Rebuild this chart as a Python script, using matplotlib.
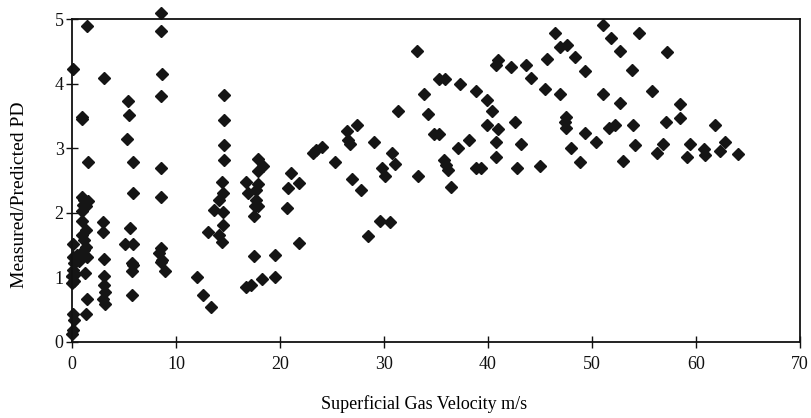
import matplotlib
matplotlib.use('Agg')
import matplotlib.pyplot as plt

# superficial gas velocity (m/s) and measured/predicted pressure drop
velocity = [
    0.1, 0.1, 0.1, 0.2, 0.1, 0.0, 0.0, 0.5, 0.7, 0.1, 0.2, 0.1, 0.0, 0.3, 0.2,
    1.43, 0.95, 0.95, 1.5, 1.0, 1.2, 1.5, 1.1, 1.35, 1.0, 0.95, 1.35, 0.95, 1.2,
    1.35, 1.2, 1.45, 1.25, 1.45, 1.35,
    3.1, 3.0, 3.0, 3.05, 3.1, 3.1, 3.2, 3.0, 3.2,
    5.4, 5.45, 5.3, 5.87, 5.87, 5.6, 5.1, 5.85, 5.9, 5.75, 5.75, 5.75,
    8.57, 8.57, 8.67, 8.6, 8.6, 8.6, 8.57, 8.4, 8.7, 8.57, 8.9,
    12.0, 12.6, 13.4, 13.1, 14.6, 14.6, 14.6, 14.6, 14.4, 14.55, 14.1, 13.65,
    14.5, 14.55, 14.1, 14.4,
    17.9, 18.4, 17.9, 16.7, 17.9, 16.9, 17.7, 17.7, 17.6, 17.9, 17.5, 17.5,
    19.5, 16.7, 17.2, 18.25, 19.5,
    21.1, 21.8, 20.8, 20.7, 21.8, 23.2, 23.5, 24.0, 25.3,
    33.2, 35.3, 35.9, 37.3, 38.8, 33.8, 31.3, 34.2, 27.4, 26.4, 26.5, 26.7,
    29.0, 34.8, 35.3, 38.2, 37.1, 30.8, 31.1, 29.8, 30.1, 26.9, 27.8, 33.3,
    35.8, 36.0, 36.2, 36.4, 38.8, 29.6, 30.6, 28.5,
    51.1, 46.4, 54.5, 51.8, 46.9, 47.6, 52.7, 41.0, 40.8, 45.7, 42.2, 43.7,
    44.1, 48.4, 49.3, 53.8, 45.5, 46.9, 51.1, 52.7, 39.9, 40.4, 39.9, 41.0,
    42.6, 40.8, 43.2, 40.8, 39.3, 42.8, 45.0, 47.5, 47.4, 47.5, 48.0, 48.8,
    49.3, 50.4, 51.6, 52.2, 53.9, 53.0, 54.1,
    57.2, 55.8, 58.5, 58.5, 57.1, 61.8, 56.8, 56.3, 59.4, 59.1, 60.8, 60.9,
    62.8, 62.3, 64.0,
]
ratio = [
    4.22, 1.52, 1.32, 1.22, 1.12, 1.02, 0.91, 1.35, 1.25, 0.44, 0.34, 0.18, 0.13, 1.05, 0.95,
    4.89, 3.49, 3.45, 2.79, 2.25, 2.20, 2.18, 2.12, 2.10, 2.03, 1.88, 1.73, 1.65, 1.58,
    1.47, 1.42, 1.32, 1.06, 0.67, 0.44,
    4.08, 1.86, 1.70, 1.29, 1.02, 0.88, 0.78, 0.67, 0.59,
    3.73, 3.52, 3.14, 2.79, 2.30, 1.76, 1.52, 1.52, 1.19, 1.10, 1.22, 0.72,
    5.09, 4.82, 4.15, 3.81, 2.70, 2.24, 1.45, 1.38, 1.27, 1.23, 1.10,
    1.01, 0.72, 0.54, 1.70, 3.82, 3.44, 3.05, 2.82, 2.47, 2.31, 2.20, 2.04,
    2.01, 1.81, 1.65, 1.55,
    2.83, 2.73, 2.64, 2.48, 2.45, 2.31, 2.36, 2.20, 2.10, 2.10, 1.95, 1.33,
    1.35, 0.85, 0.88, 0.98, 1.01,
    2.61, 2.46, 2.38, 2.08, 1.53, 2.92, 2.97, 3.02, 2.78,
    4.51, 4.07, 4.07, 4.00, 3.88, 3.84, 3.58, 3.53, 3.36, 3.27, 3.13, 3.06,
    3.09, 3.22, 3.22, 3.12, 3.00, 2.92, 2.75, 2.69, 2.57, 2.52, 2.35, 2.57,
    2.82, 2.74, 2.66, 2.40, 2.70, 1.88, 1.85, 1.64,
    4.91, 4.79, 4.78, 4.70, 4.56, 4.60, 4.50, 4.37, 4.29, 4.38, 4.26, 4.29,
    4.09, 4.41, 4.20, 4.21, 3.92, 3.84, 3.84, 3.70, 3.74, 3.58, 3.36, 3.29,
    3.41, 3.09, 3.07, 2.86, 2.70, 2.70, 2.73, 3.49, 3.40, 3.31, 3.01, 2.78,
    3.24, 3.09, 3.32, 3.36, 3.36, 2.80, 3.05,
    4.49, 3.88, 3.68, 3.46, 3.40, 3.36, 3.07, 2.92, 3.07, 2.87, 2.98, 2.90,
    3.09, 2.95, 2.91,
]

x_ticks = [0, 10, 20, 30, 40, 50, 60, 70]
y_ticks = [0, 1, 2, 3, 4, 5]

plt.rcParams['font.family'] = ['Liberation Serif', 'DejaVu Serif']

fig = plt.figure(figsize=(8.11, 4.18), dpi=100)
ax = fig.add_axes([0.0888, 0.182, 0.8976, 0.7725])

ax.plot(velocity, ratio, linestyle='none', marker='D', markersize=6.5,
        color='#151515', clip_on=False)

ax.set_xlim(0, 70)
ax.set_ylim(0, 5)
ax.set_xticks(x_ticks)
ax.set_yticks(y_ticks)
ax.tick_params(axis='x', direction='inout', length=8, width=1.0,
               labelsize=13, colors='#111111', pad=6)
ax.tick_params(axis='y', direction='inout', length=8, width=1.0,
               labelsize=13, colors='#111111', pad=2)

ax.set_xlabel('Superficial Gas Velocity m/s', fontsize=13)
ax.set_ylabel('Measured/Predicted PD', fontsize=14)
ax.xaxis.set_label_coords(0.484, -0.165)
ax.yaxis.set_label_coords(-0.061, 0.455)

for side in ['top', 'right', 'bottom', 'left']:
    ax.spines[side].set_linewidth(1.3)
    ax.spines[side].set_color('#111111')

plt.savefig('out.png', dpi=100, facecolor='white')
plt.close(fig)
